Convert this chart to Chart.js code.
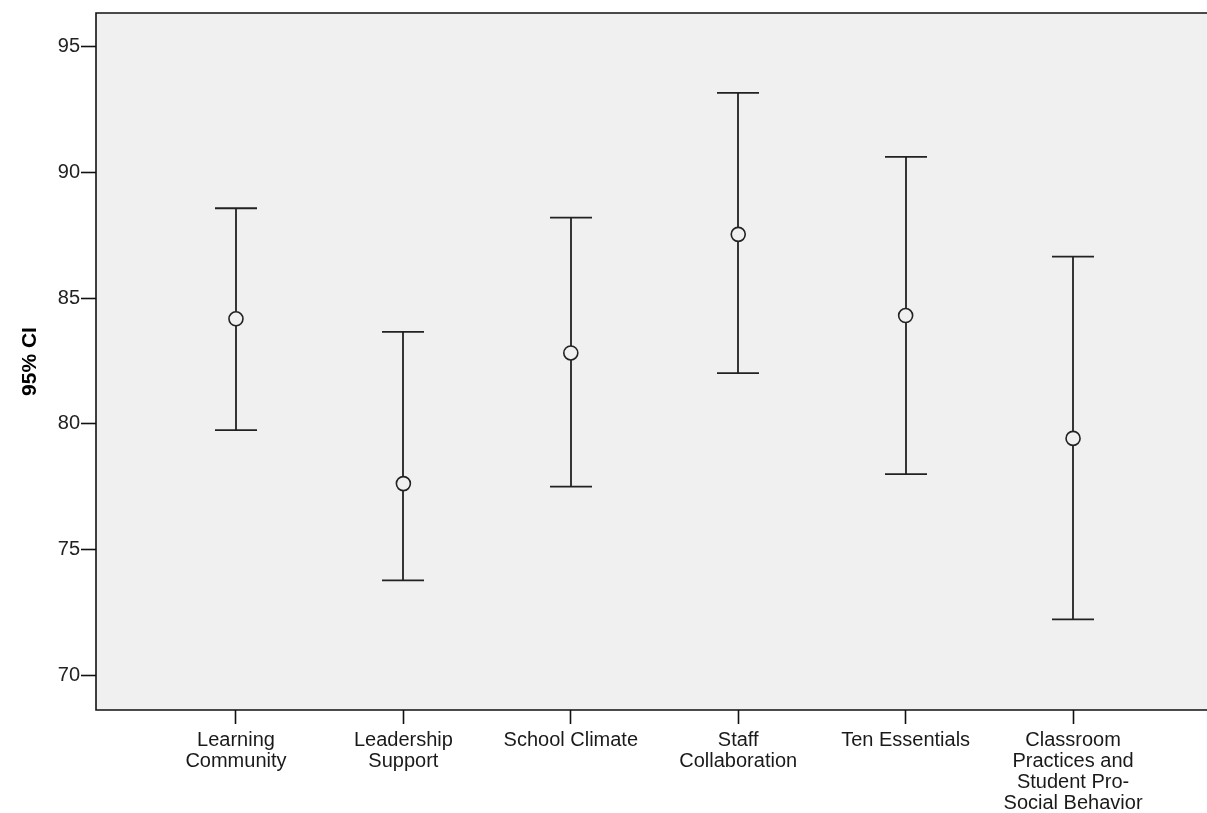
<!DOCTYPE html>
<html>
<head>
<meta charset="utf-8">
<script src="https://cdn.jsdelivr.net/npm/chart.js@4/dist/chart.umd.min.js"></script>
<style>
  html, body { margin: 0; padding: 0; background: #fff; }
  #wrap { width: 1207px; height: 813px; }
</style>
</head>
<body>
<div id="wrap"><canvas id="ciChart" width="1207" height="813"></canvas></div>
<script>
const categories = [
    ['Learning', 'Community'],
    ['Leadership', 'Support'],
    ['School Climate'],
    ['Staff', 'Collaboration'],
    ['Ten Essentials'],
    ['Classroom', 'Practices and', 'Student Pro-', 'Social Behavior']
];
const means = [84.18, 77.62, 82.82, 87.54, 84.31, 79.42];
const upper = [88.58, 83.66, 88.21, 93.17, 90.62, 86.65];
const lower = [79.75, 73.77, 77.50, 82.02, 78.00, 72.22];
const yTicks = [70, 75, 80, 85, 90, 95];

const font = "'Liberation Sans', Arial, sans-serif";

// grey plot background + frame (open on the right, like the original)
const plotBg = {
    id: 'plotBg',
    beforeDraw(chart) {
        const {ctx, chartArea: a} = chart;
        ctx.save();
        ctx.fillStyle = '#f0f0f0';
        ctx.fillRect(a.left, a.top, a.right - a.left, a.bottom - a.top);
        ctx.strokeStyle = '#111';
        ctx.lineWidth = 1.6;
        ctx.beginPath();
        ctx.moveTo(a.right + 2, a.top);
        ctx.lineTo(a.left, a.top);
        ctx.lineTo(a.left, a.bottom);
        ctx.lineTo(a.right + 2, a.bottom);
        ctx.stroke();
        ctx.restore();
    }
};

// whiskers with caps, drawn from the scales
const errorBars = {
    id: 'errorBars',
    beforeDatasetsDraw(chart) {
        const {ctx, scales: {x, y}} = chart;
        ctx.save();
        ctx.strokeStyle = '#222';
        ctx.lineWidth = 1.8;
        means.forEach((m, i) => {
            const px = Math.round(x.getPixelForValue(i));
            const yt = y.getPixelForValue(upper[i]);
            const yb = y.getPixelForValue(lower[i]);
            ctx.beginPath();
            ctx.moveTo(px, yt);
            ctx.lineTo(px, yb);
            ctx.moveTo(px - 21, yt);
            ctx.lineTo(px + 21, yt);
            ctx.moveTo(px - 21, yb);
            ctx.lineTo(px + 21, yb);
            ctx.stroke();
        });
        ctx.restore();
    }
};

const ctx = document.getElementById('ciChart').getContext('2d');
const ciChart = new Chart(ctx, {
    type: 'scatter',
    data: {
        datasets: [{
            data: means.map((m, i) => ({x: i, y: m})),
            pointStyle: 'circle',
            pointRadius: 7,
            pointBorderWidth: 1.6,
            pointBorderColor: '#222',
            pointBackgroundColor: '#f0f0f0'
        }]
    },
    options: {
        responsive: false,
        animation: false,
        layout: {autoPadding: false, padding: {top: 11, right: 0, left: 0, bottom: 0}},
        plugins: {
            legend: {display: false},
            tooltip: {enabled: false}
        },
        scales: {
            x: {
                type: 'linear',
                min: -0.836,
                max: 5.80,
                afterBuildTicks: s => { s.ticks = categories.map((c, i) => ({value: i})); },
                afterFit: s => { s.height = 103; },
                grid: {drawOnChartArea: false, tickLength: 14, color: '#111', tickWidth: 1.6},
                border: {display: false},
                ticks: {
                    color: '#1a1a1a',
                    font: {family: font, size: 20, lineHeight: 1.05},
                    padding: 6,
                    maxRotation: 0,
                    autoSkip: false,
                    callback: v => categories[v]
                }
            },
            y: {
                min: 68.61,
                max: 96.35,
                afterBuildTicks: s => { s.ticks = yTicks.map(v => ({value: v})); },
                afterFit: s => { s.width = 96; },
                grid: {drawOnChartArea: false, tickLength: 15, color: '#111', tickWidth: 1.6},
                border: {display: false},
                ticks: {
                    color: '#222',
                    font: {family: font, size: 20},
                    padding: 1
                },
                title: {
                    display: true,
                    text: '95% CI',
                    color: '#000',
                    font: {family: font, size: 21, weight: 'bold'},
                    padding: {top: 18, bottom: 0}
                }
            }
        }
    },
    plugins: [plotBg, errorBars]
});
</script>
</body>
</html>
